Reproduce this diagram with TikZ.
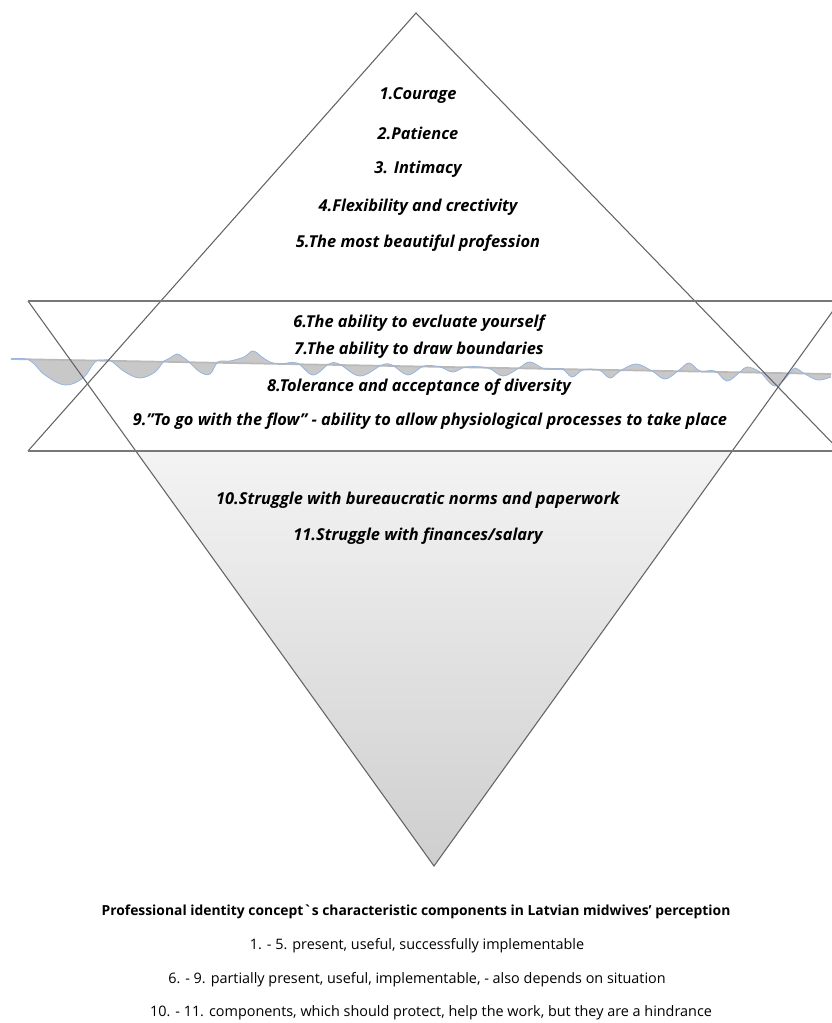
\documentclass[tikz,border=0pt]{standalone}
\usepackage{fontspec}
\setmainfont{Open Sans}
\usetikzlibrary{calc}
\definecolor{wavebl}{RGB}{150,180,225}
\definecolor{edgegr}{RGB}{100,100,100}
\definecolor{bandgr}{RGB}{120,120,120}

\begin{document}
\begin{tikzpicture}[x=0.75pt,y=0.75pt,yscale=-1,xscale=1,
  tri/.style={draw=edgegr,line width=0.8pt},
  bandline/.style={draw=bandgr,line width=1.1pt},
  item/.style={inner sep=0.75pt,font=\bfseries\itshape\fontsize{12.3}{14}\selectfont},
  capline/.style={inner sep=0.75pt,font=\fontsize{10.8}{13}\selectfont}]
\useasboundingbox (0,0) rectangle (831,1023);

% corners of the two triangles
\coordinate (topA) at (416,13);
\coordinate (baseL) at (28,451);
\coordinate (baseR) at (840,451);
\coordinate (lowL) at (28,301);
\coordinate (lowR) at (840,301);
\coordinate (lowA) at (434,866);

%Shape: shaded part of the lower triangle
\shade [top color=gray!9,bottom color=gray!38] ($(lowL)!0.2655!(lowA)$) -- ($(lowR)!0.2655!(lowA)$) -- (lowA) -- cycle ;

%Shape: waterline
\fill [gray!43] plot [smooth,tension=0.6] coordinates {(11,359) (29,360) (45,375) (65,385) (83,378) (95,362) (103,360) (111,361) (125,372) (140,378) (155,372) (164,361) (170,358) (177,354) (184,358) (188,361) (200,372) (210,374) (218,362) (230,361) (244,357) (253,351) (262,357) (270,362) (280,364) (297,363) (313,375) (329,364) (339,364) (360,376) (382,365) (392,365) (408,375) (424,366) (440,367) (453,372) (466,367) (488,368) (503,376) (519,368) (530,362) (545,369) (562,369) (572,377) (583,370) (599,370) (610,378) (620,371) (636,364) (652,371) (665,379) (678,371) (689,363) (700,371) (715,371) (727,381) (740,372) (747,367) (760,372) (775,386) (790,373) (795,368) (805,374) (818,380) (831,377)} -- (831,374) -- cycle ;
\draw [gray!55,line width=1.3pt] (11,359) -- (831,374) ;
\draw [wavebl,line width=0.6pt] plot [smooth,tension=0.6] coordinates {(11,359) (29,360) (45,375) (65,385) (83,378) (95,362) (103,360) (111,361) (125,372) (140,378) (155,372) (164,361) (170,358) (177,354) (184,358) (188,361) (200,372) (210,374) (218,362) (230,361) (244,357) (253,351) (262,357) (270,362) (280,364) (297,363) (313,375) (329,364) (339,364) (360,376) (382,365) (392,365) (408,375) (424,366) (440,367) (453,372) (466,367) (488,368) (503,376) (519,368) (530,362) (545,369) (562,369) (572,377) (583,370) (599,370) (610,378) (620,371) (636,364) (652,371) (665,379) (678,371) (689,363) (700,371) (715,371) (727,381) (740,372) (747,367) (760,372) (775,386) (790,373) (795,368) (805,374) (818,380) (831,377)} ;

%Straight Lines: the two triangles and the band
\draw [tri] (baseL) -- (topA) -- (baseR) ;
\draw [tri] (lowL) -- (lowA) -- (lowR) ;
\draw [bandline] (lowL) -- (lowR) ;
\draw [bandline] (baseL) -- (baseR) ;

% Text Node
\node [item] (i1) at (418,96) {1.Courage};
\node [item] (i2) at (418,133) {2.Patience};
\node [item] (i3) at (418,169) {3. Intimacy};
\node [item] (i4) at (418,207) {4.Flexibility and crectivity};
\node [item] (i5) at (418,243) {5.The most beautiful profession};
% Text Node
\node [item] (i6) at (419,323) {6.The ability to evcluate yourself};
\node [item] (i7) at (419,350) {7.The ability to draw boundaries};
\node [item] (i8) at (419,387) {8.Tolerance and acceptance of diversity};
\node [item] (i9) at (430,421) {9."To go with the flow" - ability to allow physiological processes to take place};
% Text Node
\node [item] (i10) at (418,500) {10.Struggle with bureaucratic norms and paperwork};
\node [item] (i11) at (418,536) {11.Struggle with finances/salary};

% Text Node
\node [capline,font=\bfseries\fontsize{10.4}{13}\selectfont] (cap) at (416,912) {Professional identity concept\textasciigrave s characteristic components in Latvian midwives' perception};
\node [capline] (c1) at (417,946) {1. - 5. present, useful, successfully implementable};
\node [capline] (c2) at (417,980) {6. - 9. partially present, useful, implementable, - also depends on situation};
\node [capline] (c3) at (431,1013) {10. - 11. components, which should protect, help the work, but they are a hindrance};

\end{tikzpicture}
\end{document}
